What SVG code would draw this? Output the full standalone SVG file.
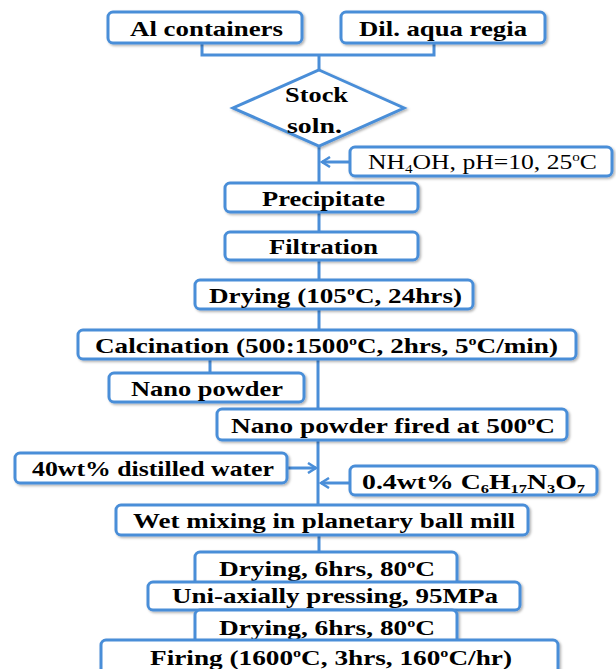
<svg xmlns="http://www.w3.org/2000/svg" width="616" height="669" viewBox="0 0 616 669">
<defs>
<style>
.box{fill:#fff;stroke:#4A8ED8;stroke-width:3}
.t{font-family:"Liberation Serif","Times New Roman",serif;font-weight:bold;font-size:22px;fill:#000}
.n{font-weight:normal}
.c{fill:none;stroke:#4A8ED8;stroke-width:3}
.sh{filter:url(#shadow)}
</style>
<filter id="shadow" x="-5%" y="-20%" width="110%" height="150%">
<feDropShadow dx="1.5" dy="1.5" stdDeviation="1" flood-color="#000" flood-opacity="0.3"/>
</filter>
<marker id="arr" markerWidth="12" markerHeight="12" refX="9" refY="6" orient="auto" markerUnits="userSpaceOnUse">
<path d="M1,1 L9,6 L1,11" fill="none" stroke="#4A8ED8" stroke-width="2.5"/>
</marker>
</defs>
<rect width="616" height="669" fill="#fff"/>
<g id="connectors">
<path class="c" d="M202,43 V55 H434 V43 M319,55 V70"/>
<path class="c" d="M319,146 V183 M319,212 V232 M319,260 V280 M319,309 V330 M318,359 V409 M210,359 V373 M318,440 V505 M319,535 V552"/>
<path class="c" d="M350,162 H322" marker-end="url(#arr)"/>
<path class="c" d="M287,468 H316" marker-end="url(#arr)"/>
<path class="c" d="M350,483 H321" marker-end="url(#arr)"/>
</g>
<g id="al"><rect class="box sh" x="108" y="12" width="194" height="31" rx="5"/><text class="t" x="130" y="36" textLength="153" lengthAdjust="spacingAndGlyphs">Al containers</text></g>
<g id="aqua"><rect class="box sh" x="341" y="12" width="204" height="31" rx="5"/><text class="t" x="359" y="36" textLength="168" lengthAdjust="spacingAndGlyphs">Dil. aqua regia</text></g>
<g id="stock"><polygon class="box sh" points="319,70 404,108 319,146 233,108"/><text class="t" x="285" y="102" textLength="63" lengthAdjust="spacingAndGlyphs">Stock</text><text class="t" x="287" y="133" textLength="55" lengthAdjust="spacingAndGlyphs">soln.</text></g>
<g id="nh4oh"><rect class="box sh" x="350" y="147" width="262" height="29" rx="5"/><text class="t n" x="368" y="169" textLength="229" lengthAdjust="spacingAndGlyphs">NH<tspan font-size="13" dy="4">4</tspan><tspan dy="-4">OH, pH=10, 25</tspan><tspan font-size="13" dy="-8">o</tspan><tspan dy="8">C</tspan></text></g>
<g id="precipitate"><rect class="box sh" x="225" y="183" width="193" height="29" rx="5"/><text class="t" x="262" y="206" textLength="123" lengthAdjust="spacingAndGlyphs">Precipitate</text></g>
<g id="filtration"><rect class="box sh" x="225" y="232" width="193" height="28" rx="5"/><text class="t" x="269" y="254" textLength="109" lengthAdjust="spacingAndGlyphs">Filtration</text></g>
<g id="drying105"><rect class="box sh" x="195" y="280" width="278" height="29" rx="5"/><text class="t" x="209" y="303" textLength="253" lengthAdjust="spacingAndGlyphs">Drying (105<tspan font-size="13" dy="-8">o</tspan><tspan dy="8">C, 24hrs)</tspan></text></g>
<g id="calcination"><rect class="box sh" x="78" y="330" width="498" height="29" rx="5"/><text class="t" x="95" y="353" textLength="463" lengthAdjust="spacingAndGlyphs">Calcination (500:1500<tspan font-size="13" dy="-8">o</tspan><tspan dy="8">C, 2hrs, 5</tspan><tspan font-size="13" dy="-8">o</tspan><tspan dy="8">C/min)</tspan></text></g>
<g id="nano"><rect class="box sh" x="109" y="373" width="195" height="29" rx="5"/><text class="t" x="131" y="396" textLength="152" lengthAdjust="spacingAndGlyphs">Nano powder</text></g>
<g id="nanofired"><rect class="box sh" x="217" y="409" width="350" height="31" rx="5"/><text class="t" x="231" y="433" textLength="324" lengthAdjust="spacingAndGlyphs">Nano powder fired at 500<tspan font-size="13" dy="-8">o</tspan><tspan dy="8">C</tspan></text></g>
<g id="water"><rect class="box sh" x="15" y="453" width="272" height="30" rx="5"/><text class="t" x="32" y="476" textLength="242" lengthAdjust="spacingAndGlyphs">40wt% distilled water</text></g>
<g id="citrate"><rect class="box sh" x="350" y="466" width="247" height="29" rx="5"/><text class="t" x="362" y="489" textLength="223" lengthAdjust="spacingAndGlyphs">0.4wt% C<tspan font-size="13" dy="4">6</tspan><tspan dy="-4">H</tspan><tspan font-size="13" dy="4">17</tspan><tspan dy="-4">N</tspan><tspan font-size="13" dy="4">3</tspan><tspan dy="-4">O</tspan><tspan font-size="13" dy="4">7</tspan></text></g>
<g id="wetmix"><rect class="box sh" x="116" y="505" width="412" height="30" rx="5"/><text class="t" x="133" y="528" textLength="382" lengthAdjust="spacingAndGlyphs">Wet mixing in planetary ball mill</text></g>
<g id="drying1"><rect class="box sh" x="195" y="552" width="262" height="40" rx="5"/><text class="t" x="219" y="576" textLength="216" lengthAdjust="spacingAndGlyphs">Drying, 6hrs, 80<tspan font-size="13" dy="-8">o</tspan><tspan dy="8">C</tspan></text></g>
<g id="pressing"><rect class="box sh" x="148" y="582" width="372" height="28" rx="5"/><text class="t" x="172" y="603" textLength="326" lengthAdjust="spacingAndGlyphs">Uni-axially pressing, 95MPa</text></g>
<g id="drying2"><rect class="box sh" x="195" y="610" width="262" height="40" rx="5"/><text class="t" x="219" y="635" textLength="216" lengthAdjust="spacingAndGlyphs">Drying, 6hrs, 80<tspan font-size="13" dy="-8">o</tspan><tspan dy="8">C</tspan></text></g>
<g id="firing"><rect class="box sh" x="101" y="640" width="457" height="40" rx="5"/><text class="t" x="150" y="665" textLength="362" lengthAdjust="spacingAndGlyphs">Firing (1600<tspan font-size="13" dy="-8">o</tspan><tspan dy="8">C, 3hrs, 160</tspan><tspan font-size="13" dy="-8">o</tspan><tspan dy="8">C/hr)</tspan></text></g>
</svg>
